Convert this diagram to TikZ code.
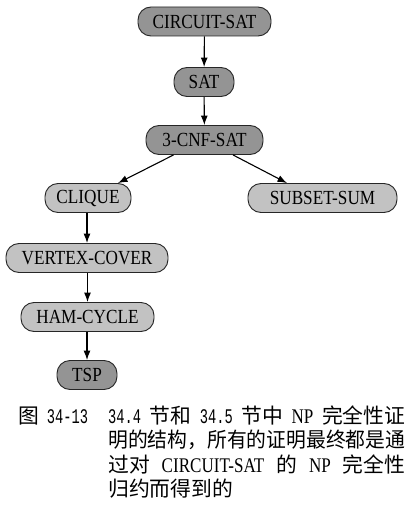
\documentclass[tikz,border=0pt]{standalone}
\usepackage{fontspec}
\usepackage{graphicx}
\setmainfont{Liberation Serif}
\newfontfamily\cjk{Noto Sans CJK SC}
\newfontfamily\monofam{Liberation Mono}
\usetikzlibrary{arrows.meta}
\newcommand{\dg}[1]{\scalebox{0.66}[1]{\monofam #1}}
\newcommand{\nt}[1]{\scalebox{0.86}[1]{#1}}
\newcommand{\lat}[1]{\scalebox{0.82}[1]{#1}}
\begin{document}
\begin{tikzpicture}[x=1pt,y=-1pt,
  pill/.style={draw=black!85, line width=0.9pt, rounded corners=13pt,
    minimum height=29pt, inner sep=0pt,
    font=\fontsize{20pt}{22pt}\selectfont},
  dark/.style={pill, fill=black!42},
  light/.style={pill, fill=black!24},
  arr/.style={line width=1.1pt, -{Latex[length=9.5pt,width=7pt]}},
  capcjk/.style={anchor=base west, inner sep=0pt, font=\fontsize{20.8pt}{24pt}\selectfont}
]
\useasboundingbox (0,0) rectangle (415,516);
\fill[white] (0,0) rectangle (415,516);

\node[dark, minimum width=133pt] (cs) at (204.5,21.5) {\nt{CIRCUIT-SAT}};
\node[dark, minimum width=60pt] (sat) at (204,82) {\nt{SAT}};
\node[dark, minimum width=117pt] (cnf) at (204.5,140) {\nt{3-CNF-SAT}};
\node[light, minimum width=86pt] (cl) at (88,198) {\nt{CLIQUE}};
\node[light, minimum width=149pt] (ss) at (322.5,198) {\nt{SUBSET-SUM}};
\node[light, minimum width=162pt] (vc) at (87,258) {\nt{VERTEX-COVER}};
\node[light, minimum width=133pt] (hc) at (87.5,317) {\nt{HAM-CYCLE}};
\node[dark, minimum width=60pt] (tsp) at (87,375) {\nt{TSP}};

\draw[arr] (cs) -- (sat);
\draw[arr] (sat) -- (cnf);
\draw[arr] ([xshift=-31pt]cnf.south) -- ([xshift=30pt]cl.north);
\draw[arr] ([xshift=28.5pt]cnf.south) -- ([xshift=-35.5pt]ss.north);
\draw[arr] (cl.south -| vc.north) -- (vc.north);
\draw[arr] (vc.south -| hc.north) -- (hc.north);
\draw[arr] (hc.south -| tsp.north) -- (tsp.north);

\node[capcjk] (fig) at (18,423.5) {{\cjk 图}\hspace{8pt}\dg{34-13}};
\node[capcjk] (l1) at (108,423.5) {\makebox[297pt][s]{\dg{34.4} {\cjk 节和} \dg{34.5} {\cjk 节中} \lat{NP} {\cjk 完全性证}}};
\node[capcjk] (l2) at (108,447.5) {\resizebox{297pt}{\height}{\cjk 明的结构，所有的证明最终都是通}};
\node[capcjk] (l3) at (108,472) {\makebox[297pt][s]{{\cjk 过对} \lat{CIRCUIT-SAT} {\cjk 的} \lat{NP} {\cjk 完全性}}};
\node[capcjk] (l4) at (108,496) {\cjk 归约而得到的};
\end{tikzpicture}
\end{document}
